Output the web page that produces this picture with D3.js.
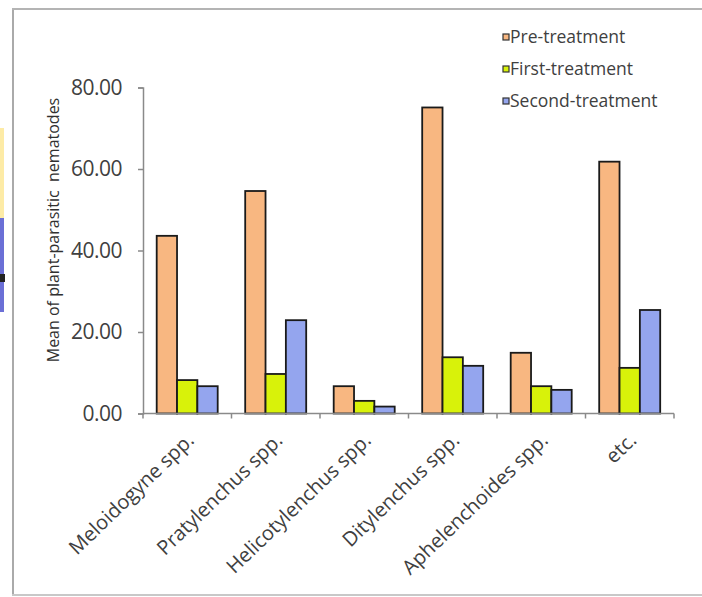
<!DOCTYPE html>
<html><head><meta charset="utf-8">
<script src="https://cdn.jsdelivr.net/npm/d3@7"></script>
<style>html,body{margin:0;padding:0;background:#fff;}svg{display:block;}</style>
</head><body>
<svg id="c" width="702" height="597"></svg>
<script>
const categories = ["Meloidogyne spp.","Pratylenchus spp.","Helicotylenchus spp.","Ditylenchus spp.","Aphelenchoides spp.","etc."];
const seriesNames = ["Pre-treatment","First-treatment","Second-treatment"];
const preTreatment = [43.6, 54.6, 6.7, 75.1, 14.9, 61.8];
const firstTreatment = [8.2, 9.7, 3.1, 13.8, 6.7, 11.2];
const secondTreatment = [6.7, 22.9, 1.7, 11.7, 5.8, 25.4];
const yTicks = [0, 20, 40, 60, 80];
const yTitle = "Mean of plant-parasitic  nematodes";

const colors = ["#F8B781", "#D8F20A", "#94A5EE"];
const values = [preTreatment, firstTreatment, secondTreatment];
const font = "'Open Sans', sans-serif";

const svg = d3.select("#c");

// frame and slide artifacts
svg.append("rect").attr("x",0).attr("y",128).attr("width",4).attr("height",90).attr("fill","#FDEBA6");
svg.append("rect").attr("x",0).attr("y",218).attr("width",4).attr("height",94).attr("fill","#6B6FD6");
svg.append("rect").attr("x",0).attr("y",274).attr("width",5).attr("height",8).attr("fill","#222");
svg.append("line").attr("x1",13).attr("x2",13).attr("y1",8).attr("y2",596).attr("stroke","#aaa").attr("stroke-width",2);
svg.append("line").attr("x1",12).attr("x2",702).attr("y1",9).attr("y2",9).attr("stroke","#b4b4b4").attr("stroke-width",2);
svg.append("line").attr("x1",12).attr("x2",702).attr("y1",595).attr("y2",595).attr("stroke","#c8c8c8").attr("stroke-width",2);

const x0 = d3.scaleBand().domain(categories).range([143, 674]).padding(0);
const x1 = d3.scaleBand().domain(seriesNames).range([13.7, 74.7]).padding(0);
const y = d3.scaleLinear().domain([0, 80]).range([413.5, 87.5]);

// y axis
const yAxis = svg.append("g").attr("transform","translate(143,0)")
  .call(d3.axisLeft(y).tickValues(yTicks).tickFormat(d3.format(".2f")).tickSize(5).tickPadding(16));
yAxis.select(".domain").attr("stroke","#8a8a8a").attr("stroke-width",1.5);
yAxis.selectAll(".tick line").attr("stroke","#8a8a8a").attr("stroke-width",1.5);
yAxis.selectAll(".tick text").attr("font-family",font).attr("font-size",21).attr("fill","#404040")
  .attr("letter-spacing","-0.5");

// bars
const groups = svg.append("g").selectAll("g").data(categories).join("g")
  .attr("transform", d => `translate(${x0(d)},0)`);
groups.selectAll("rect").data((d,i) => seriesNames.map((s,j) => ({s, v: values[j][i], j})))
  .join("rect")
  .attr("x", d => x1(d.s))
  .attr("width", x1.bandwidth())
  .attr("y", d => y(d.v))
  .attr("height", d => y(0) - y(d.v))
  .attr("fill", d => colors[d.j])
  .attr("stroke", "#1a1a1a")
  .attr("stroke-width", 1.8);

// x axis
const xAxisG = svg.append("g");
xAxisG.append("line").attr("x1",143).attr("x2",674).attr("y1",y(0)).attr("y2",y(0)).attr("stroke","#8a8a8a").attr("stroke-width",1.5);
const bounds = categories.map(c => x0(c)).concat([x0(categories[categories.length-1]) + x0.bandwidth()]);
xAxisG.selectAll("line.t").data(bounds).join("line").attr("class","t")
  .attr("x1", d => d).attr("x2", d => d).attr("y1", y(0)).attr("y2", y(0)+5)
  .attr("stroke","#8a8a8a").attr("stroke-width",1.5);
xAxisG.selectAll("text").data(categories).join("text")
  .attr("transform", d => `translate(${x0(d) + x0.bandwidth()/2 + 8},${y(0)+28}) rotate(-44)`)
  .attr("text-anchor","end")
  .attr("font-family",font).attr("font-size",20).attr("fill","#404040")
  .text(d => d);

// y title
svg.append("text")
  .attr("transform","translate(53,230) rotate(-90)")
  .attr("text-anchor","middle").attr("dy","0.35em")
  .attr("font-family",font).attr("font-size",16).attr("fill","#303030")
  .attr("xml:space","preserve").style("white-space","pre")
  .text(yTitle);

// legend
const lg = svg.append("g");
seriesNames.forEach((s, i) => {
  const cy = 37 + i * 32;
  lg.append("rect").attr("x",503).attr("y",cy-3).attr("width",6).attr("height",6)
    .attr("fill",colors[i]).attr("stroke","#333").attr("stroke-width",1.2);
  lg.append("text").attr("x",510).attr("y",cy).attr("dy","0.35em")
    .attr("font-family",font).attr("font-size",17.5).attr("fill","#404040").text(s);
});
</script>
</body></html>
